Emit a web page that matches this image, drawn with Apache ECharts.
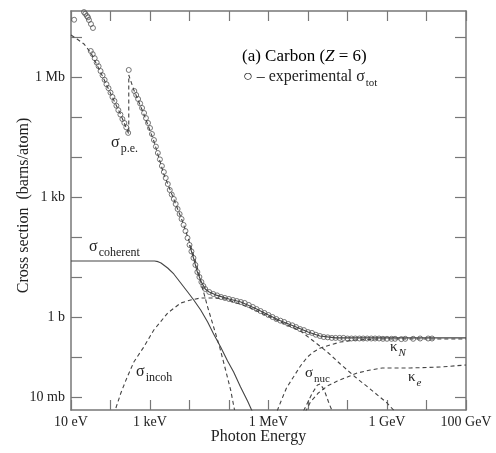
<!DOCTYPE html>
<html>
<head>
<meta charset="utf-8">
<script src="https://cdn.jsdelivr.net/npm/echarts@6/dist/echarts.min.js"></script>
<style>
html, body { margin: 0; padding: 0; background: #fff; }
#chart { width: 496px; height: 453px; }
</style>
</head>
<body>
<div id="chart"></div>
<script>
// photon energy in eV, cross section in barns/atom
var expLowE = [12, 21.3, 23, 25.3, 27, 28.5, 32, 36];
var expLowS = [2.7e7, 4.2e7, 3.8e7, 3.35e7, 3.1e7, 2.66e7, 2.11e7, 1.68e7];

var expMidE = [31.6, 35.5, 39.8, 44.7, 50, 56, 63, 71, 79, 89, 100, 112, 126, 141, 158, 178, 200, 224, 251, 280];
var expMidS = [4.47e6, 3.72e6, 2.95e6, 2.29e6, 1.86e6, 1.41e6, 1.1e6, 8.5e5, 6.6e5, 5.25e5, 4.07e5, 3.16e5, 2.51e5, 1.91e5, 1.48e5, 1.15e5, 8.9e4, 7.1e4, 5.5e4, 4.0e4];

var expHighE = [290, 400, 500, 630, 790,
    1000, 1260, 1580, 2000, 2500, 3160, 4000, 5000, 6300, 7900,
    1.0e4, 1.26e4, 1.58e4, 2.0e4, 2.5e4, 3.16e4, 4.0e4, 5.0e4, 6.3e4, 7.9e4,
    1.0e5, 1.26e5, 1.58e5, 2.0e5, 2.5e5, 3.16e5, 4.0e5, 5.0e5, 6.3e5, 7.9e5,
    1.0e6, 1.26e6, 1.58e6, 2.0e6, 2.5e6, 3.16e6, 4.0e6, 5.0e6, 6.3e6, 7.9e6,
    1.0e7, 1.26e7, 1.58e7, 2.0e7, 2.5e7, 3.16e7, 4.0e7, 5.0e7, 6.3e7, 7.9e7,
    1.0e8, 1.26e8, 1.58e8, 2.0e8, 2.5e8, 3.16e8, 4.0e8, 5.0e8, 6.3e8, 7.9e8,
    1.0e9, 1.3e9, 1.6e9, 2.3e9, 2.9e9, 4.6e9, 6.9e9, 1.1e10, 1.38e10];
var expHighS = [1.5e6, 4.47e5, 2.82e5, 1.68e5, 9.4e4,
    5.3e4, 2.66e4, 1.26e4, 5960, 2990, 1500, 891, 501, 282, 141,
    63.1, 29.9, 13.3, 7.5, 5.01, 4.22, 3.76, 3.47, 3.16, 2.99,
    2.82, 2.66, 2.51, 2.37, 2.24, 2.0, 1.78, 1.58, 1.41, 1.26,
    1.12, 1.0, 0.89, 0.81, 0.75, 0.67, 0.62, 0.56, 0.5, 0.47,
    0.42, 0.4, 0.36, 0.335, 0.316, 0.31, 0.30, 0.30, 0.30, 0.30,
    0.29, 0.29, 0.29, 0.29, 0.29, 0.29, 0.29, 0.29, 0.29, 0.285,
    0.285, 0.285, 0.285, 0.28, 0.285, 0.285, 0.29, 0.29, 0.29];

// extra points where the measured band is steep and dense
var expSteepE = [447, 562, 708, 891, 1120, 1410, 1780, 2240, 2820, 3550, 4470, 5620, 7080, 8910, 1.12e4, 1.41e4, 1.78e4, 2.24e4];
var expSteepS = [3.55e5, 2.19e5, 1.26e5, 7.1e4, 3.76e4, 1.82e4, 8700, 4220, 2110, 1150, 668, 376, 200, 94.4, 43.6, 20, 10, 5.96];

var totE = [1e4, 1.26e4, 1.58e4, 2e4, 2.5e4, 3.16e4, 5e4, 1e5, 2e5, 5e5, 1e6, 2e6, 5e6, 1e7, 2e7, 5e7, 1e8, 1e9, 1e10, 1e11];
var totS = [63, 29.9, 13.3, 7.5, 5.0, 4.22, 3.47, 2.82, 2.37, 1.58, 1.12, 0.81, 0.56, 0.42, 0.335, 0.30, 0.30, 0.30, 0.30, 0.30];

var peE = [10, 14.2, 21.3, 32, 57.3, 102, 183, 290, 290, 390, 697, 1250, 2230, 3990, 6730, 1.07e4, 1.52e4, 2.03e4, 2.88e4, 4.08e4, 5.79e4, 8.2e4, 1.1e5, 1.38e5];
var peS = [1.12e7, 8.9e6, 6.7e6, 3.98e6, 1.26e6, 3.76e5, 1.12e5, 3.76e4, 1.12e6, 4.73e5, 1.19e5, 2.51e4, 3760, 891, 237, 59.6, 20, 6.31, 1.78, 0.562, 0.178, 0.0473, 0.015, 0.00473];

var cohE = [10, 1300, 1600, 1900, 2800, 4000, 6000, 9000, 1.28e4, 1.92e4, 2.88e4, 4.08e4, 6.14e4, 9.2e4, 1.31e5, 1.96e5, 2.95e5, 3.94e5];
var cohS = [25.1, 25.1, 24.2, 22.4, 16.8, 11.9, 7.08, 4.22, 2.66, 1.50, 0.75, 0.376, 0.178, 0.0794, 0.0422, 0.0178, 0.00794, 0.00422];

var incE = [137, 183, 259, 390, 697, 1250, 2810, 6000, 1.07e4, 1.92e4, 3.85e4, 8.2e4, 3.51e5, 1.79e6, 6.43e6, 1.37e7, 3.09e7, 6.58e7, 1.57e8, 3.77e8, 1.01e9, 1.61e9];
var incS = [0.00531, 0.0126, 0.0299, 0.075, 0.178, 0.473, 1.26, 2.24, 2.66, 2.99, 2.99, 2.82, 1.68, 0.794, 0.447, 0.251, 0.133, 0.0668, 0.0316, 0.0158, 0.00708, 0.00422];

var kNE = [1.6e6, 1.69e6, 2.13e6, 2.85e6, 4.28e6, 6.43e6, 9.66e6, 1.37e7, 2.06e7, 3.68e7, 6.58e7, 1.57e8, 6.73e8, 1e11];
var kNS = [0.003, 0.00473, 0.0084, 0.0168, 0.0316, 0.0596, 0.1, 0.133, 0.168, 0.2, 0.237, 0.266, 0.282, 0.282];

var kEE = [8.6e6, 1.15e7, 1.83e7, 3.09e7, 5.52e7, 9.89e7, 1.77e8, 3.77e8, 7.57e8, 3.85e9, 2.2e10, 1e11];
var kES = [0.00422, 0.0075, 0.0126, 0.0188, 0.0251, 0.0316, 0.0398, 0.0473, 0.0531, 0.0531, 0.0562, 0.0631];

var nucE = [6.46e6, 1.29e7, 1.74e7, 2.04e7, 2.57e7, 3.31e7, 4.17e7];
var nucS = [0.00316, 0.0126, 0.02, 0.0211, 0.015, 0.0075, 0.00422];

// axis ticks, as powers of ten
var xTickExp = [1, 2, 3, 4, 5, 6, 7, 8, 9, 10, 11];
var xLabelExp = [1, 3, 6, 9, 11];
var xLabelText = ['10 eV', '1 keV', '1 MeV', '1 GeV', '100 GeV'];
var yTickExp = [-2, -1, 0, 1, 2, 3, 4, 5, 6, 7];
var yLabelExp = [-2, 0, 3, 6];
var yLabelText = ['10 mb', '1 b', '1 kb', '1 Mb'];

var serif = 'Liberation Serif';
var ink = '#222';
var lineCol = '#444';
var frameCol = '#777';

function pts(es, ss) {
    var out = [];
    for (var i = 0; i < es.length; i++) {
        out.push([Math.log10(es[i]), Math.log10(ss[i])]);
    }
    return out;
}

function xAxisOf(pos, show) {
    return {
        type: 'value', min: 1, max: 11, position: pos,
        axisLine: { show: true, onZero: false, lineStyle: { color: frameCol, width: 1.5 } },
        axisTick: { show: true, inside: true, length: 10, customValues: xTickExp, lineStyle: { color: frameCol, width: 1.2 } },
        axisLabel: {
            show: show, customValues: xLabelExp, margin: 5,
            fontFamily: serif, fontSize: 14, color: ink,
            formatter: function (v) { return xLabelText[xLabelExp.indexOf(Math.round(v))]; }
        },
        splitLine: { show: false },
        name: show ? 'Photon Energy' : '', nameLocation: 'middle', nameGap: 19, nameMoveOverlap: false,
        nameTextStyle: { fontFamily: serif, fontSize: 16, color: ink, padding: [0, 20, 0, 0] }
    };
}

function yAxisOf(pos, show) {
    return {
        type: 'value', min: -2.325, max: 7.65, position: pos,
        axisLine: { show: true, onZero: false, lineStyle: { color: frameCol, width: 1.5 } },
        axisTick: { show: true, inside: true, length: 11, customValues: yTickExp, lineStyle: { color: frameCol, width: 1.2 } },
        axisLabel: {
            show: show, customValues: yLabelExp, margin: 6,
            fontFamily: serif, fontSize: 14, color: ink,
            formatter: function (v) { return yLabelText[yLabelExp.indexOf(Math.round(v))]; }
        },
        splitLine: { show: false },
        name: show ? 'Cross section  (barns/atom)' : '', nameLocation: 'middle', nameGap: 39, nameMoveOverlap: false,
        nameTextStyle: { fontFamily: serif, fontSize: 16, color: ink, padding: [0, 0, 0, 10] }
    };
}

function curve(data, dashed) {
    return {
        type: 'line', data: data, showSymbol: false, silent: true,
        lineStyle: { color: lineCol, width: 1.1, type: dashed ? [4, 3] : 'solid' }
    };
}

var measure = document.createElement('canvas').getContext('2d');
function fontOf(size, italic) {
    return (italic ? 'italic ' : '') + size + 'px "' + serif + '"';
}
function txt(str, x, y, size, italic) {
    return {
        type: 'text', x: x, y: y,
        style: { text: str, fill: ink, textVerticalAlign: 'middle', font: fontOf(size, italic) }
    };
}
// symbol with a subscript placed right after it
function subbed(main, sub, x, y, size, subSize, subItalic) {
    measure.font = fontOf(size);
    var w = measure.measureText(main).width;
    return [txt(main, x, y, size), txt(sub, x + w + 1, y + size * 0.38, subSize, subItalic)];
}

var expData = pts(expLowE, expLowS).concat(
    pts(expMidE, expMidS), pts(expHighE, expHighS), pts(expSteepE, expSteepS));

var labels = [{
    type: 'text', x: 242, y: 57,
    style: {
        text: '{n|(a) Carbon (}{i|Z}{n| = 6)}', textVerticalAlign: 'middle',
        rich: {
            n: { fontFamily: serif, fontSize: 17, color: ink },
            i: { fontFamily: serif, fontSize: 17, fontStyle: 'italic', color: ink }
        }
    }
}].concat(
    subbed('\u25CB \u2013 experimental \u03C3', 'tot', 243, 77, 16, 11),
    subbed('\u03C3', 'p.e.', 111, 143, 16, 12),
    subbed('\u03C3', 'coherent', 89, 247, 16, 12),
    subbed('\u03C3', 'incoh', 136, 372, 16, 12),
    subbed('\u03C3', 'nuc', 305, 373, 15, 11),
    subbed('\u03BA', 'N', 390, 347, 15, 11, true),
    subbed('\u03BA', 'e', 408, 377, 15, 11, true)
);

var chart = echarts.init(document.getElementById('chart'));
var option = {
    animation: false,
    grid: { left: 71, right: 30, top: 11, bottom: 43, outerBoundsMode: 'none', containLabel: false },
    xAxis: [xAxisOf('bottom', true), xAxisOf('top', false)],
    yAxis: [yAxisOf('left', true), yAxisOf('right', false)],
    series: [
        curve(pts(totE, totS), false),
        curve(pts(cohE, cohS), false),
        curve(pts(peE, peS), true),
        curve(pts(incE, incS), true),
        curve(pts(kNE, kNS), true),
        curve(pts(kEE, kES), true),
        curve(pts(nucE, nucS), true),
        {
            type: 'scatter', data: expData, symbol: 'circle', symbolSize: 5, silent: true,
            itemStyle: { color: 'rgba(0,0,0,0)', borderColor: '#555', borderWidth: 1 }
        }
    ],
    graphic: labels
};
chart.setOption(option);
</script>
</body>
</html>
